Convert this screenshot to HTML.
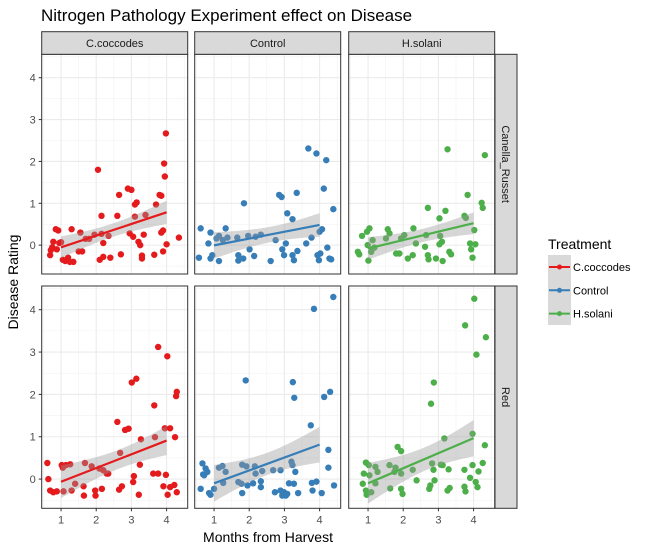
<!DOCTYPE html>
<html><head><meta charset="utf-8"><style>
body{margin:0;background:#fff;}
svg{display:block;font-family:"Liberation Sans",Arial,sans-serif;}
</style></head><body>
<svg id="chart" width="650" height="549" viewBox="0 0 650 549" xmlns="http://www.w3.org/2000/svg">
<rect width="650" height="549" fill="#fff"/>
<text x="41" y="21" font-size="17" fill="#000">Nitrogen Pathology Experiment effect on Disease</text>
<text x="268" y="542" font-size="14" text-anchor="middle" fill="#000">Months from Harvest</text>
<text transform="translate(18,282) rotate(-90)" font-size="14" text-anchor="middle" fill="#000">Disease Rating</text>
<g id="panels"></g>
<g id="legend"></g>
</svg>
<script>
const treatments = ["C.coccodes","Control","H.solani"];
const varieties = ["Canella_Russet","Red"];
const colors = ["#E41A1C","#377EB8","#4DAF4A"];
const xTicks = [1,2,3,4];
const yTicks = [0,1,2,3,4];
const fitRange = [1,4];
const cc_canella = [[0.69,-0.24],[0.71,-0.12],[0.78,0.08],[0.75,-0.05],[0.85,0.38],[0.92,0.35],[0.88,-0.1],[0.95,0.05],[1.0,0.07],[1.05,-0.35],[1.12,-0.38],[1.2,-0.3],[1.25,-0.4],[1.3,0.38],[1.35,-0.4],[1.5,-0.15],[1.55,0.3],[1.6,-0.15],[1.7,0.15],[1.8,0.15],[1.95,0.25],[2.05,1.8],[2.1,-0.35],[2.15,0.7],[2.15,0.27],[2.2,0.05],[2.2,-0.28],[2.35,0.22],[2.4,-0.3],[2.6,0.7],[2.65,1.2],[2.7,-0.22],[2.9,1.35],[2.95,0.28],[3.0,1.32],[3.05,0.2],[3.1,0.68],[3.1,0.97],[3.15,1.02],[3.2,0.08],[3.25,0.0],[3.3,-0.25],[3.3,-0.32],[3.35,0.25],[3.4,0.72],[3.65,-0.23],[3.7,0.97],[3.8,1.2],[3.85,1.18],[3.85,0.3],[3.9,0.35],[3.9,-0.15],[3.93,1.95],[3.95,1.64],[3.98,2.67],[4.0,0.02],[4.35,0.18]];
const ctrl_canella = [[0.62,0.4],[0.84,0.04],[0.9,0.3],[0.57,-0.3],[0.95,-0.24],[0.9,-0.32],[1.14,-0.38],[1.07,0.16],[1.14,0.22],[1.25,0.12],[1.33,0.4],[1.38,0.18],[1.66,0.18],[1.85,1.0],[1.69,-0.24],[1.69,-0.37],[1.83,-0.32],[1.97,0.22],[2.01,-0.1],[2.14,-0.26],[2.18,0.2],[2.33,0.25],[2.61,-0.38],[2.75,0.12],[2.85,1.2],[2.92,1.15],[2.94,-0.1],[2.99,-0.24],[3.04,0.04],[3.08,0.76],[3.23,0.62],[3.23,-0.24],[3.27,-0.36],[3.35,1.25],[3.37,-0.14],[3.62,0.04],[3.68,2.31],[3.77,0.18],[3.91,2.19],[3.94,-0.24],[3.98,-0.36],[4.0,0.32],[4.02,-0.2],[4.07,0.38],[4.12,1.35],[4.19,2.03],[4.22,-0.06],[4.28,-0.32],[4.39,0.86],[4.33,-0.34]];
const hs_canella = [[0.71,-0.16],[0.75,-0.22],[0.83,0.22],[0.97,0.32],[1.04,0.4],[0.99,0],[1.01,-0.37],[1.09,-0.16],[1.13,0.12],[1.18,-0.06],[1.51,0.16],[1.56,0.38],[1.61,0.28],[1.8,-0.2],[1.89,-0.2],[1.94,0.16],[2.03,0.24],[2.13,-0.32],[2.27,-0.24],[2.29,0.4],[2.36,0.04],[2.62,-0.04],[2.65,0.24],[2.7,0.89],[2.7,-0.24],[2.72,-0.34],[2.93,-0.32],[3.03,0.64],[3.05,0.22],[3.03,0.02],[3.1,0.08],[3.12,-0.38],[3.2,0.82],[3.26,2.29],[3.31,-0.16],[3.36,-0.22],[3.74,0.7],[3.78,0.65],[3.83,1.2],[3.9,0.04],[3.93,-0.1],[3.97,-0.3],[4.02,0.36],[4.05,0.02],[4.23,1.01],[4.26,0.89],[4.32,2.15]];
const cc_red = [[0.61,0.38],[0.64,0],[0.69,-0.27],[0.78,-0.31],[0.88,-0.29],[1.02,0.33],[1.05,0.27],[1.07,-0.29],[1.14,0.33],[1.26,0.35],[1.3,-0.27],[1.4,-0.11],[1.64,-0.17],[1.65,-0.39],[1.68,0.38],[1.87,0.3],[1.97,-0.27],[1.98,-0.39],[2.09,0.25],[2.16,-0.23],[2.2,0.21],[2.3,0.13],[2.34,0.13],[2.6,1.35],[2.65,-0.25],[2.68,0.62],[2.73,-0.17],[2.82,1.16],[2.92,1.19],[3.01,2.28],[3.05,-0.07],[3.07,0.07],[3.14,2.37],[3.21,-0.37],[3.24,0.34],[3.27,0.94],[3.62,0.13],[3.65,1.74],[3.67,0.99],[3.76,0.13],[3.76,3.12],[3.91,-0.17],[3.95,1.2],[3.98,0.1],[4.02,2.9],[4.03,-0.37],[4.1,1.2],[4.1,-0.19],[4.22,-0.14],[4.24,0.99],[4.27,1.96],[4.29,2.06],[4.29,-0.31]];
const ctrl_red = [[0.62,-0.23],[0.67,0.37],[0.69,0.11],[0.72,0.09],[0.76,0.25],[0.81,0.17],[0.86,-0.33],[0.9,-0.37],[1.0,-0.23],[1.14,0.27],[1.24,0.31],[1.33,0.17],[1.26,-0.09],[1.69,-0.07],[1.78,-0.11],[1.8,-0.33],[1.8,0.34],[1.9,2.33],[1.92,0.3],[1.95,-0.15],[2.11,-0.1],[2.16,0.3],[2.18,0.13],[2.33,-0.05],[2.33,-0.19],[2.37,0.19],[2.68,0.21],[2.73,-0.31],[2.89,0.21],[2.89,-0.27],[2.94,-0.39],[2.99,-0.31],[3.04,-0.39],[3.08,-0.35],[3.13,-0.1],[3.2,0.41],[3.23,0.33],[3.24,2.29],[3.28,1.92],[3.31,0.17],[3.27,-0.11],[3.39,-0.33],[3.75,1.27],[3.78,-0.09],[3.8,-0.27],[3.84,4.02],[3.91,-0.06],[4.06,-0.33],[4.13,1.94],[4.25,0.69],[4.25,0.27],[4.3,2.06],[4.39,4.3],[4.41,-0.15]];
const hs_red = [[0.85,-0.11],[0.88,0.13],[0.94,0.39],[0.94,-0.27],[0.96,-0.37],[1.02,0.33],[1.04,0.09],[1.09,-0.31],[1.21,-0.1],[1.21,0.29],[1.27,0.17],[1.61,0.33],[1.63,-0.22],[1.75,0.17],[1.78,0.27],[1.84,0.76],[1.94,0.66],[1.94,0.13],[1.94,-0.23],[1.98,-0.35],[2.27,0.22],[2.38,-0.03],[2.74,-0.23],[2.77,-0.15],[2.79,1.78],[2.82,0.37],[2.86,0.22],[2.87,2.28],[2.89,-0.03],[3.07,0.34],[3.12,0.33],[3.17,0.96],[3.26,-0.27],[3.29,0.23],[3.32,-0.21],[3.74,0.22],[3.74,-0.18],[3.77,-0.29],[3.76,3.63],[3.9,0.03],[3.97,0.33],[3.97,1.07],[4.02,4.26],[4.06,-0.07],[4.08,2.94],[4.11,-0.19],[4.14,0.18],[4.26,0.38],[4.32,0.8],[4.35,3.35]];
const panelData = [[cc_canella,ctrl_canella,hs_canella],[cc_red,ctrl_red,hs_red]];

const NS="http://www.w3.org/2000/svg";
const root=document.getElementById('panels');
function mk(tag,attrs,parent){const e=document.createElementNS(NS,tag);for(const k in attrs)e.setAttribute(k,attrs[k]);(parent||root).appendChild(e);return e;}
const colLeft=[41.7,194.7,348.7], pw=146, rowTop=[54.3,286], ph=[219.7,222.3];
const xDom=[0.45,4.6], yDom=[-0.69,4.56];
function xs(c,v){return colLeft[c]+(v-xDom[0])/(xDom[1]-xDom[0])*pw;}
function ys(r,v){return rowTop[r]+ph[r]-(v-yDom[0])/(yDom[1]-yDom[0])*ph[r];}

for(let r=0;r<2;r++){for(let c=0;c<3;c++){
  const g=mk('g',{});
  
  
  const L=colLeft[c],T=rowTop[r],H=ph[r];
  mk('rect',{x:L,y:T,width:pw,height:H,fill:'#fff'},g);
  for(let v=-0.5;v<=4.5;v+=1){mk('line',{x1:L,x2:L+pw,y1:ys(r,v),y2:ys(r,v),stroke:'#F2F2F2','stroke-width':0.6},g);}
  for(let v=0.5;v<=4.5;v+=1){mk('line',{x1:xs(c,v),x2:xs(c,v),y1:T,y2:T+H,stroke:'#F2F2F2','stroke-width':0.6},g);}
  yTicks.forEach(v=>mk('line',{x1:L,x2:L+pw,y1:ys(r,v),y2:ys(r,v),stroke:'#EBEBEB','stroke-width':1.1},g));
  xTicks.forEach(v=>mk('line',{x1:xs(c,v),x2:xs(c,v),y1:T,y2:T+H,stroke:'#EBEBEB','stroke-width':1.1},g));
  const pts=panelData[r][c];
  const n=pts.length;let mx=0,my=0;pts.forEach(p=>{mx+=p[0];my+=p[1];});mx/=n;my/=n;
  let sxx=0,sxy=0;pts.forEach(p=>{sxx+=(p[0]-mx)**2;sxy+=(p[0]-mx)*(p[1]-my);});
  const b=sxy/sxx,a=my-b*mx;let sse=0;pts.forEach(p=>{sse+=(p[1]-a-b*p[0])**2;});
  const s=Math.sqrt(sse/(n-2)),t=2.0;
  const up=[],lo=[];
  for(let i=0;i<=40;i++){const x=fitRange[0]+(fitRange[1]-fitRange[0])*i/40;const yh=a+b*x;const se=s*Math.sqrt(1/n+(x-mx)**2/sxx);
    up.push(xs(c,x)+','+ys(r,yh+t*se));lo.unshift(xs(c,x)+','+ys(r,yh-t*se));}
  pts.forEach((p,i)=>{const d=mk('circle',{cx:xs(c,p[0]),cy:ys(r,p[1]),r:3.2,fill:colors[c]},g);
    
    });
  const rib=mk('polygon',{points:up.concat(lo).join(' '),fill:'#999999','fill-opacity':0.4},g);
  
  
  const ln=mk('line',{x1:xs(c,fitRange[0]),y1:ys(r,a+b*fitRange[0]),x2:xs(c,fitRange[1]),y2:ys(r,a+b*fitRange[1]),stroke:colors[c],'stroke-width':2.2},g);
  
  
  mk('rect',{x:L,y:T,width:pw,height:H,fill:'none',stroke:'#333','stroke-width':1},g);
  if(c===0){yTicks.forEach(v=>{mk('line',{x1:L-3,x2:L,y1:ys(r,v),y2:ys(r,v),stroke:'#333'},g);
    const tl=mk('text',{x:L-6,y:ys(r,v)+4,'font-size':11,'text-anchor':'end',fill:'#4D4D4D'},g);tl.textContent=v;
    
    });}
  if(r===1){xTicks.forEach(v=>{mk('line',{x1:xs(c,v),x2:xs(c,v),y1:T+H,y2:T+H+3,stroke:'#333'},g);
    const tl=mk('text',{x:xs(c,v),y:T+H+15,'font-size':11,'text-anchor':'middle',fill:'#4D4D4D'},g);tl.textContent=v;
    
    });}
  if(r===0){const sg=mk('g',{},g);
    
    
    mk('rect',{x:L,y:31.7,width:pw,height:22.6,fill:'#D9D9D9',stroke:'#333','stroke-width':1},sg);
    const st=mk('text',{x:L+pw/2,y:47,'font-size':11,'text-anchor':'middle',fill:'#1A1A1A'},sg);st.textContent=treatments[c];}
  if(c===2){const sg=mk('g',{},g);
    
    
    mk('rect',{x:495,y:T,width:22,height:H,fill:'#D9D9D9',stroke:'#333','stroke-width':1},sg);
    const st=mk('text',{transform:'translate(502,'+(T+H/2)+') rotate(90)','font-size':11,'text-anchor':'middle',fill:'#1A1A1A'},sg);st.textContent=varieties[r];}
}}
const lg=document.getElementById('legend');
const lt=mk('text',{x:548,y:249,'font-size':14,fill:'#000'},lg);lt.textContent='Treatment';


mk('rect',{x:548,y:255,width:23,height:70,fill:'#D9D9D9'},lg);
treatments.forEach((t,i)=>{const y=267+i*23.3;const eg=mk('g',{},lg);
  
  
  mk('line',{x1:549,x2:570,y1:y,y2:y,stroke:colors[i],'stroke-width':2},eg);
  mk('circle',{cx:559.5,cy:y,r:2.5,fill:colors[i]},eg);
  const tx=mk('text',{x:573,y:y+4,'font-size':11,fill:'#000'},eg);tx.textContent=t;});
</script>
</body></html>
